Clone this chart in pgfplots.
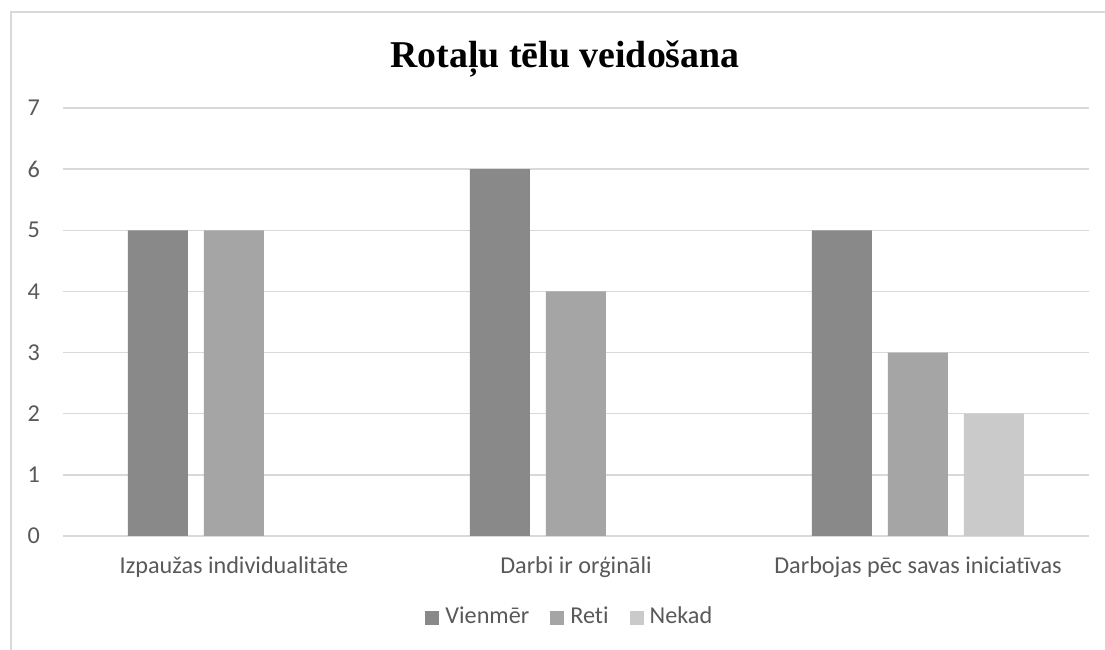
\documentclass[border=0pt]{standalone}
\usepackage{fontspec}
\setmainfont{Carlito}[RawFeature={-liga}]
\newfontfamily\titlefont{Liberation Serif}
\usepackage{pgfplots}
\pgfplotsset{compat=1.18}
\definecolor{gridc}{HTML}{D9D9D9}
\definecolor{txtc}{HTML}{595959}
\definecolor{cA}{HTML}{898989}
\definecolor{cB}{HTML}{A5A5A5}
\definecolor{cC}{HTML}{CACACA}
\begin{document}
\begin{tikzpicture}
\useasboundingbox (0,0) rectangle (1105bp,650bp);
\fill[white] (0,0) rectangle (1105bp,650bp);
\draw[gridc, line width=1.5bp] (11bp,0) -- (11bp,638bp) -- (1105bp,638bp);
\node[anchor=base, inner sep=0pt, font=\titlefont\bfseries\fontsize{38}{44}\selectfont] at (565bp,582bp) {Rotaļu tēlu veidošana};
\begin{axis}[
  at={(63bp,114bp)}, anchor=south west,
  scale only axis, width=1026bp, height=428bp,
  xmin=-0.5, xmax=2.5, ymin=0, ymax=7,
  ybar, bar width=60bp,
  axis line style={draw=none},
  major tick length=0pt,
  ytick={0,...,7},
  xtick={0,1,2},
  xticklabels={Izpaužas individualitāte, Darbi ir orģināli, Darbojas pēc savas iniciatīvas},
  ymajorgrids, major grid style={gridc, line width=1.4bp},
  /pgf/number format/assume math mode=true,
  ticklabel style={font=\fontsize{24.3}{28}\selectfont, text=txtc, inner sep=0pt},
  yticklabel style={xshift=-23bp},
  xticklabel style={yshift=-20bp},
  legend columns=3,
  legend style={at={(0.493,-0.187)}, anchor=center, draw=none, fill=none,
    font=\fontsize{24.3}{28}\selectfont, text=txtc,
    nodes={inner sep=0pt},
    /tikz/every odd column/.append style={column sep=6bp},
    /tikz/every even column/.append style={column sep=21bp}},
  legend image code/.code={\fill[#1] (0bp,-9bp) rectangle (14bp,5bp);},
]
\addplot[fill=cA, draw=none, bar shift=-76bp] coordinates {(0,5) (1,6) (2,5)};
\addplot[fill=cB, draw=none, bar shift=0bp] coordinates {(0,5) (1,4) (2,3)};
\addplot[fill=cC, draw=none, bar shift=76bp] coordinates {(0,0) (1,0) (2,2)};
\legend{Vienmēr, Reti, Nekad}
\end{axis}
\end{tikzpicture}
\end{document}
